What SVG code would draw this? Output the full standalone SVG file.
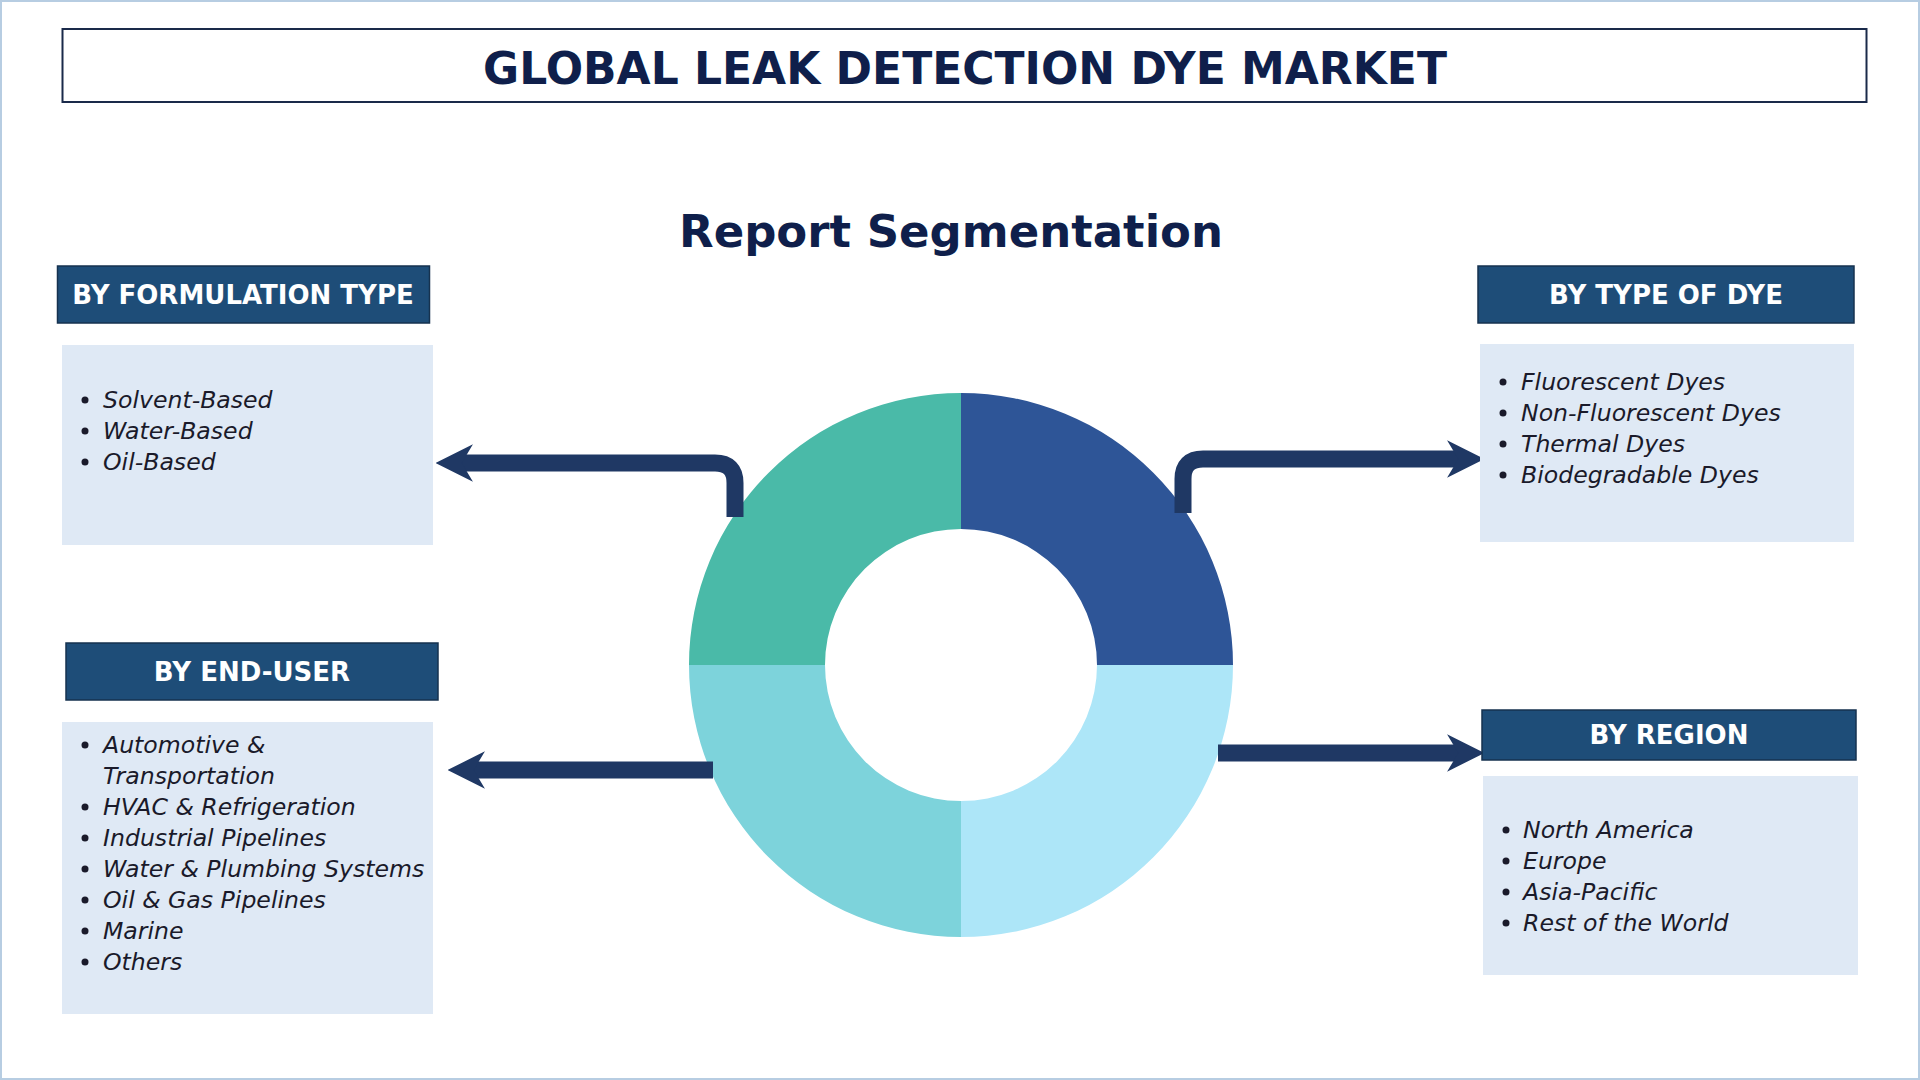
<svg xmlns="http://www.w3.org/2000/svg" width="1920" height="1080" viewBox="0 0 1920 1080">
<style>
.hdr{fill:#1e4d78;stroke:#16324f;stroke-width:1.5}
.hdrt{font-family:"DejaVu Sans",sans-serif;font-weight:700;font-size:26px;fill:#fff;text-anchor:middle}
.box{fill:#dfe9f5}
.it{font-family:"DejaVu Sans",sans-serif;font-style:italic;font-size:23.6px;fill:#1a1a2a}
.bul{fill:#1a1a2a}
.arr{fill:none;stroke:#1f3864;stroke-width:17}
</style>
<defs>
<marker id="ah" viewBox="0 0 10 10" refX="4" refY="5" markerWidth="2.2" markerHeight="2.6" orient="auto" markerUnits="strokeWidth">
<path d="M0,0 L10,5 L0,10 L3,5 Z" fill="#1f3864"/>
</marker>
</defs>
<rect width="1920" height="1080" fill="#fff"/>
<rect x="1" y="1" width="1918" height="1078" fill="none" stroke="#b7cde2" stroke-width="2"/>
<g id="title">
<rect x="62.5" y="29" width="1804" height="73" fill="#fff" stroke="#1a2a4a" stroke-width="2"/>
<text x="965" y="84" text-anchor="middle" font-family="DejaVu Sans,sans-serif" font-weight="700" font-size="44" fill="#0f1f4b">GLOBAL LEAK DETECTION DYE MARKET</text>
</g>
<g id="subtitle"><text x="951" y="247" text-anchor="middle" font-family="DejaVu Sans,sans-serif" font-weight="700" font-size="45" fill="#0f1f4b">Report Segmentation</text></g>
<g id="donut">
<path d="M961,393 A272,272 0 0 1 1233,665 L1097,665 A136,136 0 0 0 961,529 Z" fill="#2e5597"/>
<path d="M1233,665 A272,272 0 0 1 961,937 L961,801 A136,136 0 0 0 1097,665 Z" fill="#ade6f8"/>
<path d="M961,937 A272,272 0 0 1 689,665 L825,665 A136,136 0 0 0 961,801 Z" fill="#7dd3db"/>
<path d="M689,665 A272,272 0 0 1 961,393 L961,529 A136,136 0 0 0 825,665 Z" fill="#4abaa8"/>
</g>
<g id="connectors">
<path class="arr" d="M735,517 L735,483 Q735,463 715,463 L458,463" marker-end="url(#ah)"/>
<path class="arr" d="M1183,513 L1183,479 Q1183,459 1203,459 L1462,459" marker-end="url(#ah)"/>
<path class="arr" d="M713,770 L470,770" marker-end="url(#ah)"/>
<path class="arr" d="M1218,753 L1462,753" marker-end="url(#ah)"/>
</g>
<g id="formulation">
<rect class="hdr" x="57.5" y="266" width="372" height="57"/>
<text class="hdrt" x="243" y="304">BY FORMULATION TYPE</text>
<rect class="box" x="62" y="345" width="371" height="200"/>
<circle class="bul" cx="85" cy="400" r="3.5"/><text class="it" x="103" y="408">Solvent-Based</text>
<circle class="bul" cx="85" cy="431" r="3.5"/><text class="it" x="103" y="439">Water-Based</text>
<circle class="bul" cx="85" cy="462" r="3.5"/><text class="it" x="103" y="470">Oil-Based</text>
</g>
<g id="typeofdye">
<rect class="hdr" x="1478" y="266" width="376" height="57"/>
<text class="hdrt" x="1666" y="304">BY TYPE OF DYE</text>
<rect class="box" x="1480" y="344" width="374" height="198"/>
<circle class="bul" cx="1503" cy="382" r="3.5"/><text class="it" x="1521" y="390">Fluorescent Dyes</text>
<circle class="bul" cx="1503" cy="413" r="3.5"/><text class="it" x="1521" y="421">Non-Fluorescent Dyes</text>
<circle class="bul" cx="1503" cy="444" r="3.5"/><text class="it" x="1521" y="452">Thermal Dyes</text>
<circle class="bul" cx="1503" cy="475" r="3.5"/><text class="it" x="1521" y="483">Biodegradable Dyes</text>
</g>
<g id="enduser">
<rect class="hdr" x="66" y="643" width="372" height="57"/>
<text class="hdrt" x="252" y="681">BY END-USER</text>
<rect class="box" x="62" y="722" width="371" height="292"/>
<circle class="bul" cx="85" cy="745" r="3.5"/><text class="it" x="103" y="753">Automotive &amp;</text>
<text class="it" x="103" y="784">Transportation</text>
<circle class="bul" cx="85" cy="807" r="3.5"/><text class="it" x="103" y="815">HVAC &amp; Refrigeration</text>
<circle class="bul" cx="85" cy="838" r="3.5"/><text class="it" x="103" y="846">Industrial Pipelines</text>
<circle class="bul" cx="85" cy="869" r="3.5"/><text class="it" x="103" y="877">Water &amp; Plumbing Systems</text>
<circle class="bul" cx="85" cy="900" r="3.5"/><text class="it" x="103" y="908">Oil &amp; Gas Pipelines</text>
<circle class="bul" cx="85" cy="931" r="3.5"/><text class="it" x="103" y="939">Marine</text>
<circle class="bul" cx="85" cy="962" r="3.5"/><text class="it" x="103" y="970">Others</text>
</g>
<g id="region">
<rect class="hdr" x="1482" y="710" width="374" height="50"/>
<text class="hdrt" x="1669" y="744">BY REGION</text>
<rect class="box" x="1483" y="776" width="375" height="199"/>
<circle class="bul" cx="1506" cy="830" r="3.5"/><text class="it" x="1523" y="838">North America</text>
<circle class="bul" cx="1506" cy="861" r="3.5"/><text class="it" x="1523" y="869">Europe</text>
<circle class="bul" cx="1506" cy="892" r="3.5"/><text class="it" x="1523" y="900">Asia-Pacific</text>
<circle class="bul" cx="1506" cy="923" r="3.5"/><text class="it" x="1523" y="931">Rest of the World</text>
</g>
</svg>
